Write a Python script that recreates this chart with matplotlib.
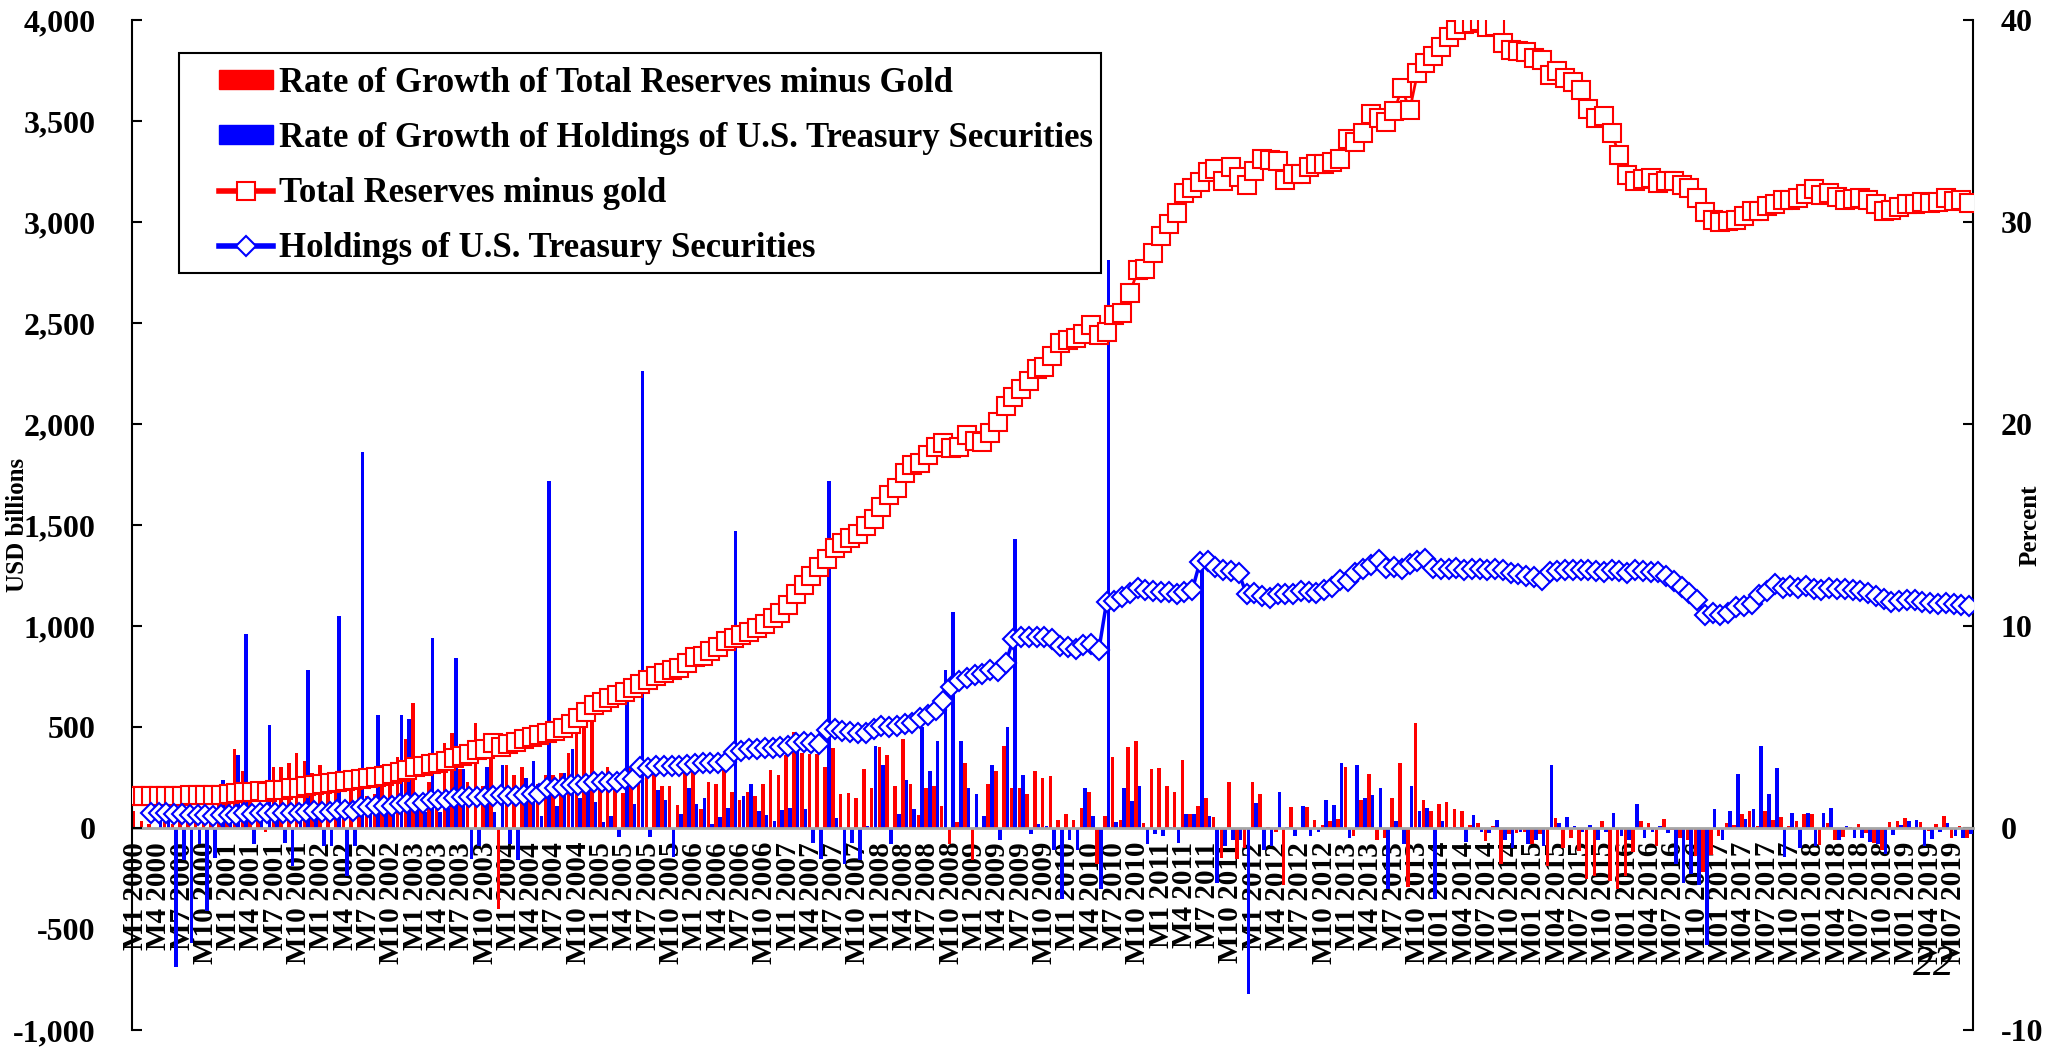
# Reserves vs. holdings of U.S. Treasury securities, monthly 2000-2019
import numpy as np
import matplotlib
matplotlib.use('Agg')
import matplotlib.pyplot as plt
from matplotlib.patches import Patch, Rectangle
from matplotlib.lines import Line2D
from matplotlib.ticker import FuncFormatter, MultipleLocator

plt.rcParams['font.family'] = ['Liberation Serif', 'DejaVu Serif']
plt.rcParams['font.weight'] = 'bold'

nan = np.nan

# USD billions, Jan 2000 .. Sep 2019
reserves = [
    157.9, 158.5, 158.8, 158.7, 159.2, 159.5, 160.3, 161.0, 161.7, 162.4, 163.7, 165.6,
    168.3, 170.9, 175.8, 179.6, 180.8, 180.4, 185.9, 190.0, 195.9, 200.1, 206.7, 212.2,
    218.8, 222.6, 228.0, 230.5, 236.6, 242.8, 246.7, 250.8, 258.6, 266.1, 276.0, 286.4,
    304.2, 309.0, 316.1, 320.3, 330.8, 346.5, 356.5, 364.7, 384.0, 392.0, 420.0, 403.3,
    415.7, 426.5, 439.8, 448.9, 458.8, 470.6, 481.2, 494.0, 514.5, 542.4, 573.6, 609.9,
    623.6, 642.5, 659.1, 670.9, 691.0, 711.0, 732.7, 753.3, 769.0, 784.5, 794.3, 818.9,
    845.2, 853.7, 875.1, 895.0, 925.0, 941.1, 954.6, 971.9, 987.9, 1009.6, 1038.4, 1066.3,
    1104.7, 1157.4, 1202.0, 1246.6, 1292.7, 1332.6, 1385.2, 1408.6, 1433.6, 1454.9, 1496.9, 1528.2,
    1589.8, 1647.1, 1682.2, 1756.7, 1797.0, 1808.8, 1845.2, 1884.2, 1905.6, 1879.7, 1884.7, 1946.0,
    1913.5, 1912.1, 1953.7, 2008.9, 2089.5, 2131.6, 2174.6, 2210.8, 2272.6, 2283.3, 2338.8, 2399.2,
    2415.2, 2424.6, 2447.1, 2490.5, 2439.5, 2454.3, 2538.6, 2547.8, 2648.3, 2760.9, 2767.8, 2847.3,
    2931.7, 2991.4, 3044.7, 3145.6, 3166.1, 3197.5, 3245.3, 3262.8, 3201.7, 3273.8, 3220.7, 3181.1,
    3253.6, 3309.7, 3305.0, 3299.9, 3206.2, 3240.0, 3239.8, 3272.9, 3285.1, 3287.4, 3297.7, 3311.6,
    3410.0, 3395.4, 3442.6, 3534.5, 3514.8, 3496.7, 3547.8, 3662.7, 3553.0, 3736.6, 3789.5, 3821.3,
    3866.6, 3913.7, 3948.1, 3978.8, 3983.9, 3993.2, 3966.3, 3968.8, 3887.7, 3852.9, 3847.3, 3843.0,
    3813.4, 3801.5, 3730.0, 3748.1, 3711.1, 3693.8, 3651.3, 3557.4, 3514.1, 3525.5, 3438.3, 3330.4,
    3230.9, 3202.3, 3212.6, 3219.7, 3191.7, 3205.2, 3201.1, 3185.2, 3166.4, 3120.7, 3051.6, 3010.5,
    2998.2, 3005.1, 3009.1, 3029.5, 3053.6, 3056.8, 3080.7, 3091.5, 3108.5, 3109.2, 3119.3, 3139.9,
    3161.5, 3134.5, 3142.8, 3124.9, 3110.6, 3112.1, 3117.9, 3109.7, 3087.0, 3053.1, 3061.7, 3072.7,
    3087.9, 3090.2, 3098.8, 3094.9, 3101.0, 3119.2, 3103.7, 3107.2, 3092.4,
]

holdings = [
    nan, nan, 73, 74, 75, 70, 69, 65, 64.5, 62, 61, 62.5,
    63, 65.5, 72, 71.5, 72, 75.5, 76, 75.5, 74, 75, 81, 82,
    81, 80.5, 89, 87, 86, 102, 103, 109, 110, 111, 117, 123,
    124, 125, 137, 138, 139, 150, 155, 152, 151, 155, 156, 161,
    160, 157, 161, 166, 167, 196, 198, 203, 211, 214, 220, 226,
    227, 228, 227, 242, 245, 300, 299, 305, 309, 305, 307, 313,
    317, 321, 322, 324, 327, 375, 381, 390, 393, 396, 397, 401,
    405, 420, 424, 421, 415, 486, 488, 480, 476, 469, 469, 488,
    503, 499, 503, 515, 520, 546, 561, 585, 631, 698, 728, 743,
    755, 760, 783, 779, 818, 935, 948, 946, 947, 945, 935, 902,
    897, 887, 904, 909, 882, 1120, 1124, 1146, 1162, 1186, 1176, 1172,
    1168, 1168, 1160, 1168, 1176, 1316, 1324, 1290, 1278, 1270, 1262, 1158,
    1163, 1150, 1140, 1160, 1160, 1158, 1171, 1166, 1163, 1179, 1192, 1230,
    1224, 1262, 1281, 1302, 1328, 1288, 1292, 1282, 1309, 1320, 1333, 1286,
    1284, 1284, 1285, 1276, 1284, 1281, 1278, 1283, 1275, 1262, 1259, 1249,
    1241, 1230, 1268, 1271, 1278, 1279, 1276, 1278, 1270, 1268, 1278, 1273,
    1262, 1277, 1271, 1268, 1269, 1247, 1225, 1192, 1164, 1131, 1052, 1062,
    1056, 1065, 1093, 1098, 1108, 1153, 1173, 1208, 1190, 1199, 1187, 1196,
    1185, 1178, 1187, 1181, 1183, 1176, 1171, 1165, 1150, 1136, 1121, 1123,
    1127, 1131, 1121, 1114, 1111, 1114, 1110, 1104, 1100,
]

# percent, month on month
growth_reserves = [
    0.84, 0.35, 0.18, -0.07, 0.3, 0.2, 0.5, 0.45, 0.45, 0.45, 0.8, 1.2,
    1.6, 3.9, 2.8, 2.2, 0.7, -0.2, 3.0, 3.0, 3.2, 3.7, 3.3, 2.7,
    3.1, 1.7, 2.4, 1.1, 2.6, 2.6, 1.6, 1.7, 3.1, 2.9, 3.5, 4.4,
    6.2, 1.6, 2.3, 1.3, 4.2, 4.7, 2.9, 2.3, 5.2, 2.1, 4.1, -4.0,
    3.1, 2.6, 3.0, 2.1, 2.2, 2.6, 2.6, 2.7, 3.7, 4.75, 5.4, 5.4,
    1.9, 3.0, 2.1, 1.75, 3.0, 2.9, 2.7, 2.7, 2.08, 2.08, 1.15, 2.8,
    2.8, 0.95, 2.3, 2.2, 2.9, 1.8, 1.4, 1.8, 1.6, 2.2, 2.85, 2.6,
    3.6, 4.75, 3.7, 3.65, 3.65, 3.0, 3.95, 1.7, 1.75, 1.5, 2.9, 2.0,
    4.0, 3.6, 2.1, 4.4, 2.2, 0.65, 2.0, 2.1, 1.1, -0.8, 0.3, 3.2,
    -1.6, -0.05, 2.2, 2.8, 4.05, 2.0, 2.0, 1.7, 2.8, 2.5, 2.55, 0.4,
    0.7, 0.4, 1.0, 1.8, -1.8, 0.6, 3.5, 0.4, 4.0, 4.3, 0.25, 2.9,
    2.95, 2.1, 1.8, 3.35, 0.7, 1.1, 1.5, 0.55, -1.5, 2.3, -1.55, -1.0,
    2.3, 1.7, 0.05, -0.2, -2.8, 1.05, 0.0, 1.05, 0.4, 0.13, 0.33, 0.46,
    3.0, -0.4, 1.4, 2.67, -0.6, -0.5, 1.5, 3.2, -2.9, 5.2, 1.4, 0.84,
    1.2, 1.27, 0.92, 0.84, 0.15, 0.25, -0.65, 0.1, -1.8, -0.3, -0.25, -0.2,
    -0.8, -0.3, -1.9, 0.5, -1.0, -0.5, -1.15, -2.5, -2.4, 0.33, -2.6, -3.0,
    -2.4, -1.2, 0.33, 0.25, -0.9, 0.46, -0.1, -0.5, -0.6, -1.4, -2.2, -1.35,
    -0.4, 0.25, 0.17, 0.68, 0.84, 0.1, 0.84, 0.4, 0.55, 0.1, 0.33, 0.68,
    0.69, -0.85, 0.26, -0.57, -0.46, 0.05, 0.19, -0.26, -0.73, -1.1, 0.28, 0.36,
    0.49, 0.07, 0.28, -0.13, 0.2, 0.59, -0.5, 0.11, -0.48,
]

growth_holdings = [
    nan, nan, nan, 1.0, 1.0, -6.9, -1.6, -5.7, -0.8, -4.1, -1.5, 2.4,
    0.8, 3.6, 9.6, -0.8, 0.8, 5.1, 0.7, -0.75, -1.9, 1.2, 7.8, 1.0,
    -0.9, -0.9, 10.5, -2.4, -0.9, 18.6, 1.2, 5.6, 0.8, 1.0, 5.6, 5.4,
    0.9, 0.8, 9.4, 0.8, 1.0, 8.4, 2.9, -1.55, -0.9, 3.0, 0.8, 3.1,
    -0.8, -1.6, 2.5, 3.3, 0.6, 17.2, 1.1, 2.7, 3.9, 1.5, 2.0, 1.3,
    0.3, 0.6, -0.45, 6.4, 1.2, 22.6, -0.45, 1.9, 1.4, -1.45, 0.7, 2.0,
    1.2, 1.5, 0.2, 0.55, 1.0, 14.7, 1.6, 2.2, 0.85, 0.65, 0.35, 0.9,
    1.0, 3.8, 0.95, -0.75, -1.55, 17.2, 0.5, -1.8, -0.75, -1.6, 0.1, 4.05,
    3.1, -0.8, 0.7, 2.4, 0.95, 5.0, 2.8, 4.3, 7.8, 10.7, 4.3, 2.0,
    1.7, 0.6, 3.1, -0.6, 5.0, 14.3, 2.6, -0.3, 0.2, 0.1, -1.1, -3.5,
    -0.6, -1.1, 2.0, 0.6, -3.0, 28.1, 0.3, 2.0, 1.35, 2.1, -0.8, -0.3,
    -0.4, 0.05, -0.75, 0.7, 0.7, 13.0, 0.6, -2.7, -0.9, -0.6, -0.6, -8.2,
    1.25, -1.1, -0.9, 1.8, 0.05, -0.4, 1.1, -0.4, -0.2, 1.4, 1.14, 3.2,
    -0.5, 3.1, 1.5, 1.65, 2.0, -3.0, 0.33, -0.8, 2.1, 0.84, 1.0, -3.5,
    0.33, 0.05, 0.05, -0.7, 0.63, -0.2, -0.25, 0.4, -0.6, -1.0, -0.2, -0.8,
    -0.6, -0.9, 3.1, 0.25, 0.55, 0.1, -0.2, 0.17, -0.6, -0.2, 0.76, -0.4,
    -0.6, 1.2, -0.5, -0.2, 0.1, -0.25, -1.8, -2.7, -2.3, -2.8, -5.8, 0.92,
    -0.6, 0.84, 2.67, 0.46, 0.92, 4.06, 1.7, 2.97, -1.45, 0.76, -1.0, 0.76,
    -0.9, 0.76, 1.0, -0.6, 0.1, -0.5, -0.5, -0.7, -0.8, -1.3, -0.35, 0.17,
    0.33, 0.4, -0.9, -0.55, -0.2, 0.25, -0.4, -0.5, -0.3,
]

labels = ['Rate of Growth of Total Reserves minus Gold',
          'Rate of Growth of Holdings of U.S. Treasury Securities',
          'Total Reserves minus gold',
          'Holdings of U.S. Treasury Securities']

n = len(reserves)
x = np.arange(n)

# tick labels every 3 months; zero padded months from 2014 on
tick_pos = list(range(0, n, 3))
tick_lab = []
for p in tick_pos:
    yr = 2000 + p // 12
    mo = p % 12 + 1
    tick_lab.append(('M%02d %d' if yr >= 2014 else 'M%d %d') % (mo, yr))

W, H = 2049, 1051
fig = plt.figure(figsize=(W / 100, H / 100), dpi=100)
ax = fig.add_axes([131.5 / W, 21 / H, 1841.5 / W, 1010 / H])
ax2 = ax.twinx()
ax.set_zorder(ax2.get_zorder() + 1)
ax.patch.set_visible(False)

# bars (percent, right axis)
ax2.bar(x - 0.24, growth_reserves, width=0.46, color='#ff0000', zorder=3)
ax2.bar(x + 0.24, growth_holdings, width=0.46, color='#0000ff', zorder=3)

# lines (USD billions, left axis)
sq = dict(marker='s', ms=13.5, mfc='white', mec='#ff0000', mew=1.5)
dm = dict(marker='D', ms=10, mfc='white', mec='#0000ff', mew=1.5)
ax.plot(x, reserves, color='#ff0000', lw=2, zorder=3, **sq)
ax.plot(x, holdings, color='#0000ff', lw=2.5, zorder=4, **dm)

ax.set_xlim(-0.5, n - 0.5)
ax.set_ylim(-1000, 4000)
ax2.set_ylim(-10, 40)

ax.yaxis.set_major_locator(MultipleLocator(500))
ax.yaxis.set_major_formatter(FuncFormatter(lambda v, p: '{:,.0f}'.format(v)))
ax2.yaxis.set_major_locator(MultipleLocator(10))
ax2.yaxis.set_major_formatter(FuncFormatter(lambda v, p: '%d' % v))

for s in ['top', 'right', 'bottom']:
    ax.spines[s].set_visible(False)
for s in ['top', 'left']:
    ax2.spines[s].set_visible(False)
ax.spines['left'].set_linewidth(1.5)
ax2.spines['right'].set_linewidth(1.5)
ax2.spines['bottom'].set_position(('data', 0))
ax2.spines['bottom'].set_color('#a6a6a6')
ax2.spines['bottom'].set_linewidth(2)
ax2.spines['bottom'].set_zorder(5)

ax.tick_params(axis='y', direction='in', length=7, width=1.5, labelsize=23, pad=26)
ax.tick_params(axis='x', bottom=False, labelbottom=False)
ax2.tick_params(axis='y', direction='in', length=7, width=1.5, labelsize=23, pad=20)

ax2.xaxis.set_visible(True)
ax2.set_xticks(tick_pos)
ax2.set_xticklabels(tick_lab, rotation=90, fontsize=21, fontweight='bold')
ax2.tick_params(axis='x', length=0, pad=10, labelbottom=True)

ax.set_ylabel('USD billions', fontsize=18, fontweight='bold')
ax.yaxis.set_label_coords(-0.0557, 0.5)
ax2.set_ylabel('Percent', fontsize=18, fontweight='bold')
ax2.yaxis.set_label_coords(1.0245, 0.5)

# legend: separate frame so the padding can match the reference
frame = Rectangle(((179 - 131.5) / 1841.5, (1030 - 273) / 1010),
                  (1101 - 179) / 1841.5, 220 / 1010, transform=ax.transAxes,
                  facecolor='white', edgecolor='black', lw=1.5, zorder=4.5)
ax.add_patch(frame)

handles = [Patch(facecolor='#ff0000', edgecolor='#ff0000'),
           Patch(facecolor='#0000ff', edgecolor='#0000ff'),
           Line2D([], [], color='#ff0000', lw=4, **sq),
           Line2D([], [], color='#0000ff', lw=4, **dm)]
leg = ax.legend(handles, labels, loc='upper left',
                bbox_to_anchor=((219 - 131.5) / 1841.5, (1030 - 67) / 1010),
                borderaxespad=0, borderpad=0, prop={'weight': 'bold', 'size': 25},
                frameon=False, handlelength=1.56, handleheight=0.45,
                handletextpad=0.17, labelspacing=0.63)
leg.set_zorder(6)

fig.text(1934 / W, 1 - 965 / H, '22', fontsize=30, style='italic',
         fontweight='normal', ha='center', va='center')

fig.savefig('out.png', dpi=100)
